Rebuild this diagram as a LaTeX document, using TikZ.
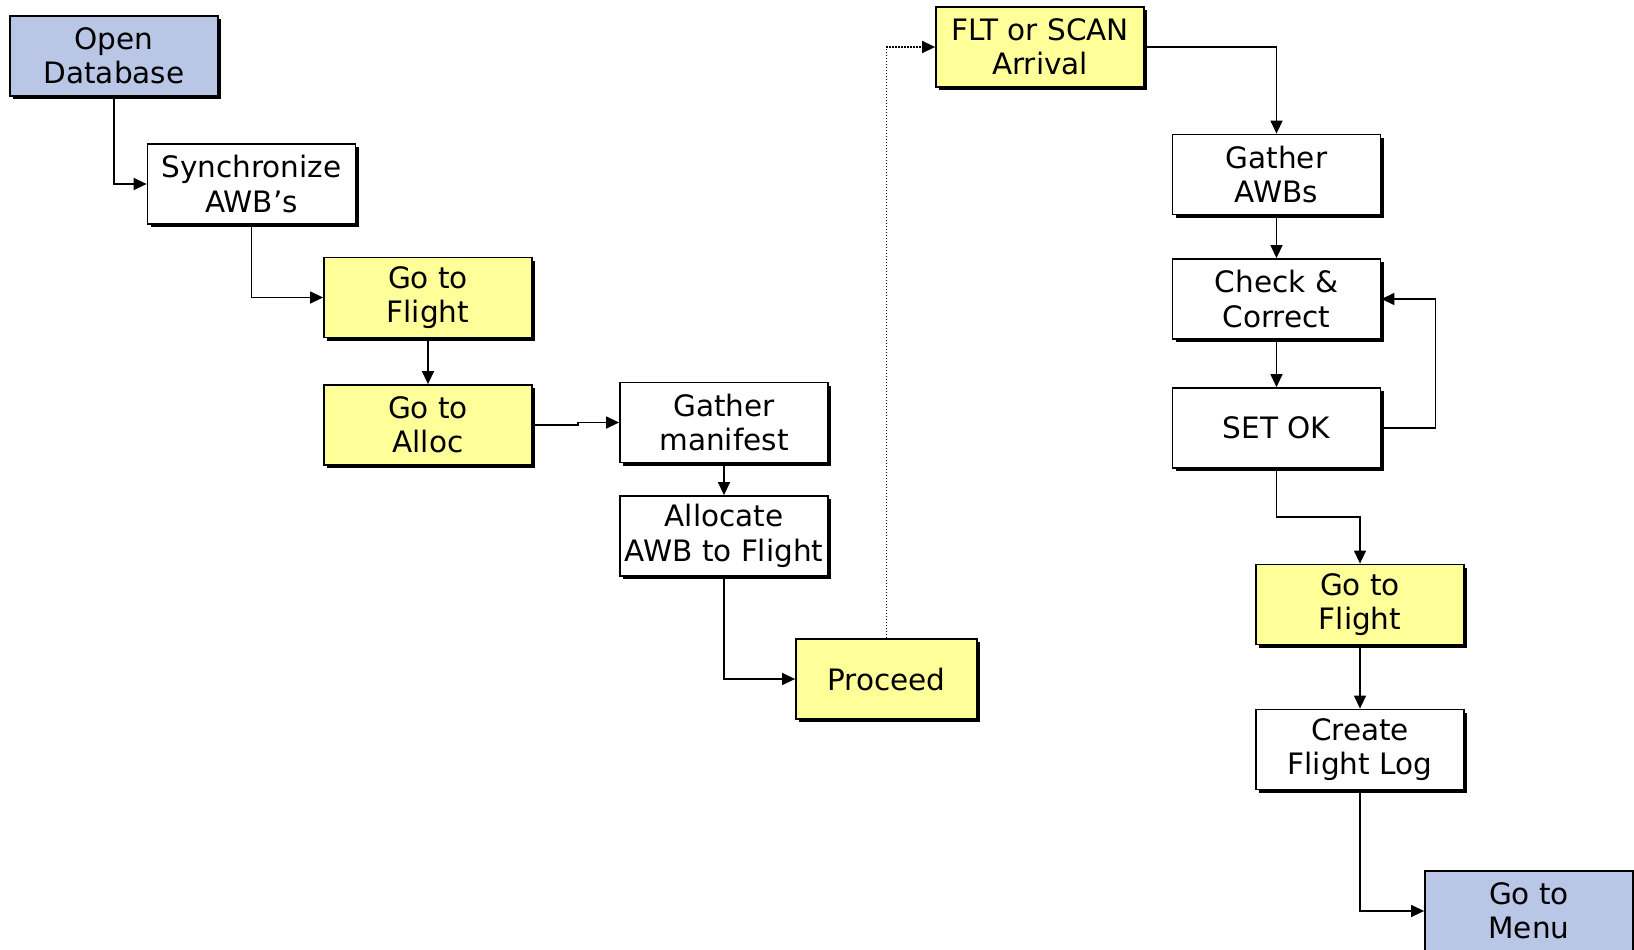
\documentclass[tikz,border=0pt]{standalone}
\usepackage{fontspec}
\setmainfont{DejaVu Sans}
\usetikzlibrary{arrows.meta,shadows}
\definecolor{boxblue}{RGB}{185,198,229}
\definecolor{boxyellow}{RGB}{255,255,153}
\tikzset{
  flowbox/.style={draw=black, line width=1.8pt, fill=white, minimum width=208pt,
    minimum height=80pt, inner sep=0pt, align=center,
    font=\fontsize{29.5}{34.5}\selectfont,
    drop shadow={shadow xshift=3pt, shadow yshift=-3pt, fill=black, opacity=1}},
  startbox/.style={flowbox, fill=boxblue},
  actbox/.style={flowbox, fill=boxyellow},
  link/.style={draw=black, line width=1.4pt, -{Triangle[length=13pt,width=12pt]}},
  dotlink/.style={link, dash pattern=on 1.6pt off 1.4pt}
}
\begin{document}
\begin{tikzpicture}[x=1pt,y=-1pt]
\useasboundingbox (0,0) rectangle (1634,950);
\fill[white] (0,0) rectangle (1634,950);

% left branch
\node[startbox] (open) at (114,56) {Open\\Database};
\node[flowbox] (sync) at (251.5,184) {Synchronize\\AWB’s};
\node[actbox] (fl1) at (428,297.5) {Go to\\Flight};
\node[actbox] (alloc) at (428,425) {Go to\\Alloc};
\node[flowbox] (manifest) at (724,422.5) {Gather\\manifest};
\node[flowbox] (allocate) at (724,536) {Allocate\\AWB to Flight};
\node[actbox, minimum width=181pt] (proceed) at (886.5,679) {Proceed};

% right branch
\node[actbox] (flt) at (1040,47) {FLT or SCAN\\Arrival};
\node[flowbox] (awbs) at (1276.5,174.5) {Gather\\AWBs};
\node[flowbox] (check) at (1276.5,299) {Check \&\\Correct};
\node[flowbox] (setok) at (1276.5,428) {SET OK};
\node[actbox] (fl2) at (1360,604.5) {Go to\\Flight};
\node[flowbox] (log) at (1360,749.5) {Create\\Flight Log};
\node[startbox] (menu) at (1529,911) {Go to\\Menu};

% connectors
\draw[link] (open.south) |- (sync.west);
\draw[link] (sync.south) |- (fl1.west);
\draw[link] (fl1.south) -- (alloc.north);
\draw[link] (alloc.east) -- ++(45,0) |- (manifest.west);
\draw[link] (manifest.south) -- (allocate.north);
\draw[link] (allocate.south) |- (proceed.west);
\draw[dotlink] (proceed.north) |- (flt.west);
\draw[link] (flt.east) -| (awbs.north);
\draw[link] (awbs.south) -- (check.north);
\draw[link] (check.south) -- (setok.north);
\draw[link] (setok.east) -- ++(54,0) |- (check.east);
\draw[link] (setok.south) -- ++(0,48) -| (fl2.north);
\draw[link] (fl2.south) -- (log.north);
\draw[link] (log.south) |- (menu.west);
\end{tikzpicture}
\end{document}
